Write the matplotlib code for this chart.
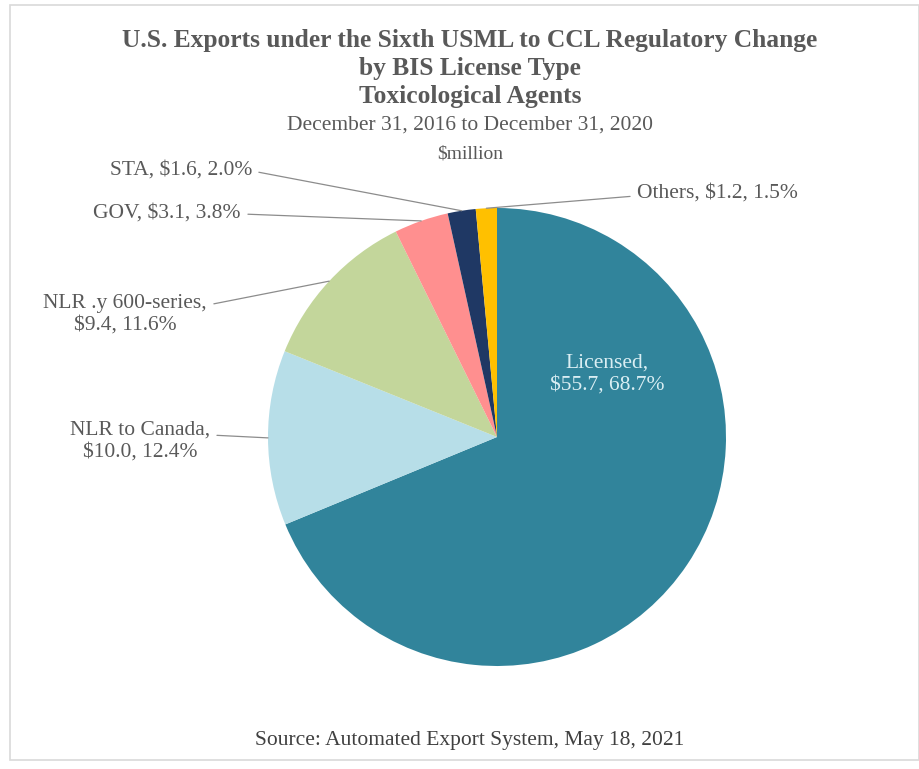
import numpy as np
import matplotlib.pyplot as plt
from matplotlib.patches import Rectangle

# dados do grafico
nomes = ['Licensed', 'NLR to Canada', 'NLR .y 600-series', 'GOV', 'STA', 'Others']
valores = [55.7, 10.0, 9.4, 3.1, 1.6, 1.2]
porcentagens = [68.7, 12.4, 11.6, 3.8, 2.0, 1.5]
cores = ['#31849B', '#B7DEE8', '#C3D69B', '#FF8F8F', '#1F3864', '#FFC000']

titulo = ['U.S. Exports under the Sixth USML to CCL Regulatory Change',
          'by BIS License Type', 'Toxicological Agents']
subtitulo = 'December 31, 2016 to December 31, 2020'
unidade = '$million'
fonte = 'Source: Automated Export System, May 18, 2021'

plt.rcParams['font.family'] = ['Liberation Serif', 'DejaVu Serif']
cinza = '#595959'

W, H = 920, 769
fig = plt.figure(figsize=(W / 100, H / 100), dpi=100)

# borda clara em volta do grafico
fig.patches.append(Rectangle((10 / W, 1 - 760 / H), 909 / W, 755 / H,
                             transform=fig.transFigure, fill=False,
                             ec='#d9d9d9', lw=1.2))

# pizza: centro (497, 437) px, raio 229 px
cx, cy, r = 497, 437, 229
ax = fig.add_axes([(cx - r) / W, 1 - (cy + r) / H, 2 * r / W, 2 * r / H])
fatias, _ = ax.pie(valores, colors=cores, startangle=90, counterclock=False,
                   radius=1, wedgeprops=dict(linewidth=0))
ax.set_xlim(-1, 1)
ax.set_ylim(-1, 1)
ax.set_aspect('equal')
ax.axis('off')

def rotulo(i, quebra=False):
    sep = '\n' if quebra else ' '
    return f'{nomes[i]},{sep}${valores[i]:.1f}, {porcentagens[i]:.1f}%'

def px(x, y):
    return ((x - cx) / r, (cy - y) / r)

# posicoes dos textos (px): x, y, alinhamento, quebra de linha, ponto de saida da linha
pos_texto = {
    1: (210, 441, 'right', True, (1, 0.65)),
    2: (207, 314, 'right', True, (1, 0.72)),
    3: (241, 213, 'right', False, (1, 0.45)),
    4: (252, 170, 'right', False, (1, 0.45)),
    5: (637, 193, 'left', False, (0, 0.35)),
}

for i, (tx, ty, ha, quebra, rel) in pos_texto.items():
    w = fatias[i]
    ang = np.deg2rad((w.theta1 + w.theta2) / 2)
    borda = (np.cos(ang), np.sin(ang))
    ax.annotate(rotulo(i, quebra), xy=borda, xytext=px(tx, ty),
                ha=ha, va='center', multialignment='center', fontsize=15.5,
                color=cinza, linespacing=1.15,
                arrowprops=dict(arrowstyle='-', color='#8c8c8c', lw=0.9,
                                relpos=rel, shrinkA=3, shrinkB=0))

# rotulo interno
ax.text(*px(607, 374), rotulo(0, True), ha='center', va='center',
        fontsize=15.5, color='#DAEEF3', linespacing=1.15)

for k, linha in enumerate(titulo):
    fig.text(470 / W, 1 - (40 + 28 * k) / H, linha, ha='center', va='center',
             fontsize=18.4, fontweight='bold', color=cinza)
fig.text(470 / W, 1 - 125 / H, subtitulo, ha='center', va='center',
         fontsize=15.5, color=cinza)
fig.text(470 / W, 1 - 154 / H, unidade, ha='center', va='center',
         fontsize=14, color=cinza)
fig.text(470 / W, 1 - 740 / H, fonte, ha='center', va='center',
         fontsize=15.5, color='#404040')

fig.savefig('out.png', dpi=100)
